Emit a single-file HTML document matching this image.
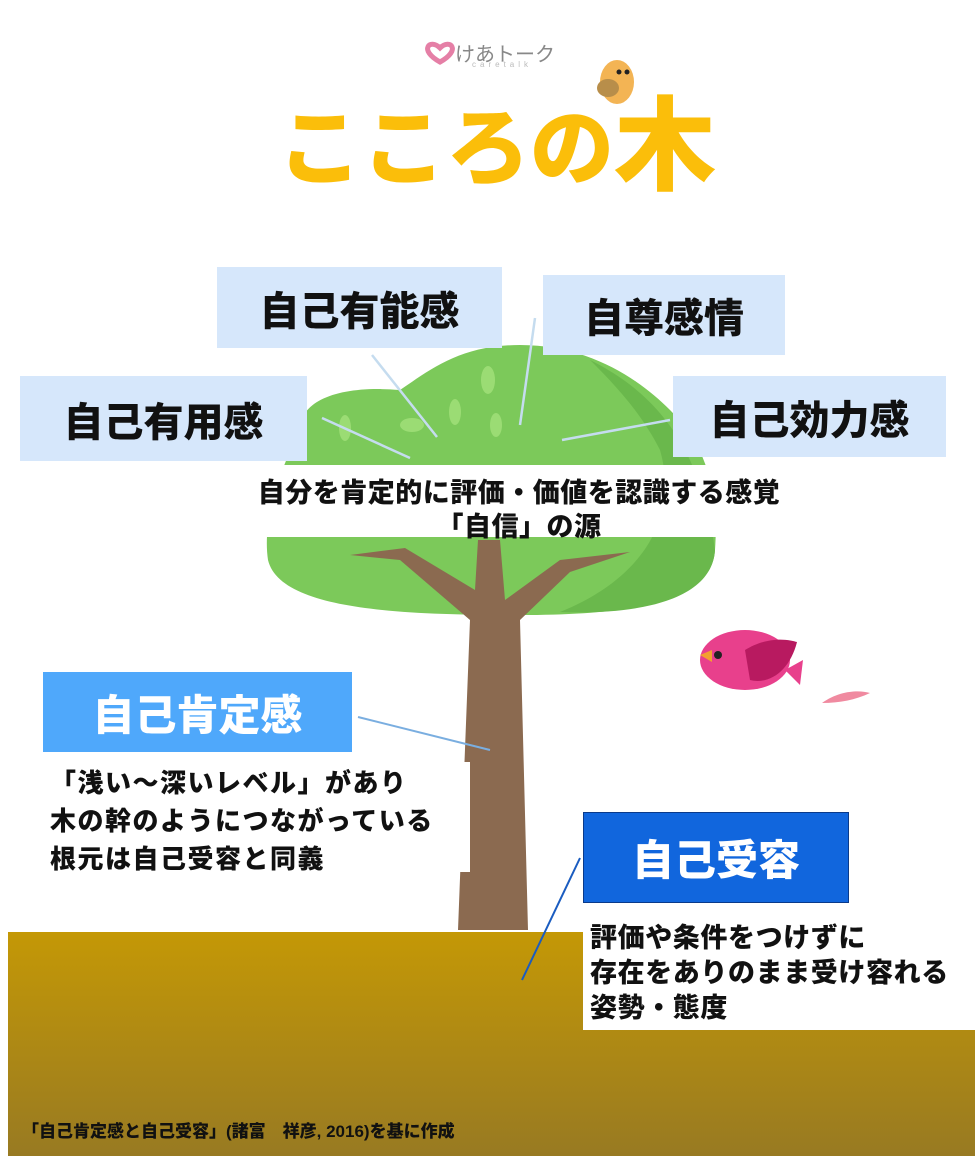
<!DOCTYPE html>
<html><head><meta charset="utf-8"><style>
body{margin:0;width:980px;height:1158px;background:#fff;position:relative;overflow:hidden;font-family:"Liberation Sans","Noto Sans CJK JP",sans-serif;font-weight:bold}
.a{position:absolute}
.lb{position:absolute;background:#d6e7fb;display:flex;align-items:center;justify-content:center;font-size:40px;color:#111;font-weight:900}
.t{position:absolute;white-space:nowrap;color:#111;font-weight:900}
</style></head><body>
<svg class="a" style="left:0;top:0" width="980" height="1158">
<defs><linearGradient id="g" x1="0" y1="0" x2="0" y2="1"><stop offset="0" stop-color="#c49806"/><stop offset="1" stop-color="#987a22"/></linearGradient></defs>
<rect x="8" y="932" width="967" height="224" fill="url(#g)"/>
<path d="M300,430 C300,400 340,385 400,390 C430,370 460,345 520,345 C590,345 640,380 670,410 C700,440 720,480 715,550 C712,600 640,615 520,615 C400,615 280,610 268,560 C262,520 280,470 300,430Z" fill="#7cc95a"/>
<path d="M590,360 C650,390 700,440 715,550 C712,600 640,615 560,612 C640,580 680,520 660,450 C640,410 610,380 590,360Z" fill="#6ab84c"/>
<ellipse cx="488" cy="380" rx="7" ry="14" fill="#9bdc74"/><ellipse cx="455" cy="412" rx="6" ry="13" fill="#9bdc74"/><ellipse cx="496" cy="425" rx="6" ry="12" fill="#9bdc74"/><ellipse cx="345" cy="428" rx="6" ry="13" fill="#9bdc74"/><ellipse cx="412" cy="425" rx="12" ry="7" fill="#9bdc74"/>
<path d="M458,930 L470,620 L400,560 L350,555 L405,548 L475,590 L478,540 L500,540 L505,600 L560,560 L630,552 L570,572 L520,620 L528,930Z" fill="#8b6a50"/>
<rect x="250" y="465" width="540" height="72" fill="#fff"/>
<g stroke="#c5dcef" stroke-width="2.5"><line x1="372" y1="355" x2="437" y2="437"/><line x1="535" y1="318" x2="520" y2="425"/><line x1="322" y1="418" x2="410" y2="458"/><line x1="670" y1="420" x2="562" y2="440"/></g>
<line x1="358" y1="717" x2="490" y2="750" stroke="#7aaee0" stroke-width="2"/>
<rect x="45" y="762" width="425" height="110" fill="#fff"/>
<rect x="583" y="918" width="392" height="112" fill="#fff"/>
<line x1="580" y1="858" x2="522" y2="980" stroke="#1a5cc0" stroke-width="2"/>
<path d="M440,48 C430,38 418,50 440,62 C462,50 450,38 440,48Z" fill="none" stroke="#e57fa6" stroke-width="5"/>
<ellipse cx="617" cy="82" rx="17" ry="22" fill="#f3b454"/><ellipse cx="608" cy="88" rx="11" ry="9" fill="#b88e4a"/><circle cx="619" cy="72" r="2.5" fill="#222"/><circle cx="627" cy="72" r="2.5" fill="#222"/>
<ellipse cx="745" cy="660" rx="45" ry="30" fill="#e8408c"/><path d="M745,650 C770,635 790,640 797,642 C790,670 770,685 750,680Z" fill="#b81a60"/><path d="M785,670 L803,660 L800,685Z" fill="#e8408c"/><path d="M700,655 L712,650 L712,662Z" fill="#f3a030"/><circle cx="718" cy="655" r="4" fill="#222"/>
<path d="M822,703 C840,690 860,690 870,693 C855,700 840,703 822,703Z" fill="#f08aa0"/>
</svg>
<div class="t" style="left:455px;top:38px;font-size:20px;color:#888;font-weight:normal">けあトーク</div>
<div class="t" style="left:472px;top:60px;font-size:8px;color:#bbb;letter-spacing:4px;font-weight:normal">caretalk</div>
<div class="t" style="left:278px;top:92px;font-size:84px;color:#fbbe0a;line-height:1">こころの<span style="font-size:102px;position:relative;top:4px">木</span></div>
<div class="lb" style="left:217px;top:267px;width:285px;height:81px">自己有能感</div>
<div class="lb" style="left:543px;top:275px;width:242px;height:80px">自尊感情</div>
<div class="lb" style="left:20px;top:376px;width:287px;height:85px">自己有用感</div>
<div class="lb" style="left:673px;top:376px;width:273px;height:81px">自己効力感</div>
<div class="lb" style="left:43px;top:672px;width:309px;height:80px;background:#4fa8fb;color:#fff;font-size:42px">自己肯定感</div>
<div class="lb" style="left:583px;top:812px;width:264px;height:89px;background:#1166dd;color:#fff;font-size:42px;border:1px solid #0a3a8a">自己受容</div>
<div class="t" style="left:0;width:1038px;text-align:center;top:471px;font-size:27px;letter-spacing:0.5px">自分を肯定的に評価・価値を認識する感覚</div>
<div class="t" style="left:0;width:1038px;text-align:center;top:505px;font-size:27px;letter-spacing:0.5px">「自信」の源</div>
<div class="t" style="left:50px;top:764px;font-size:26px;line-height:38px;letter-spacing:1.5px">「浅い～深いレベル」があり<br>木の幹のようにつながっている<br>根元は自己受容と同義</div>
<div class="t" style="left:590px;top:921px;font-size:27px;line-height:35px;letter-spacing:0.6px">評価や条件をつけずに<br>存在をありのまま受け容れる<br>姿勢・態度</div>
<div class="t" style="left:22px;top:1117px;font-size:17px">「自己肯定感と自己受容」(諸富　祥彦, 2016)を基に作成</div>
</body></html>
